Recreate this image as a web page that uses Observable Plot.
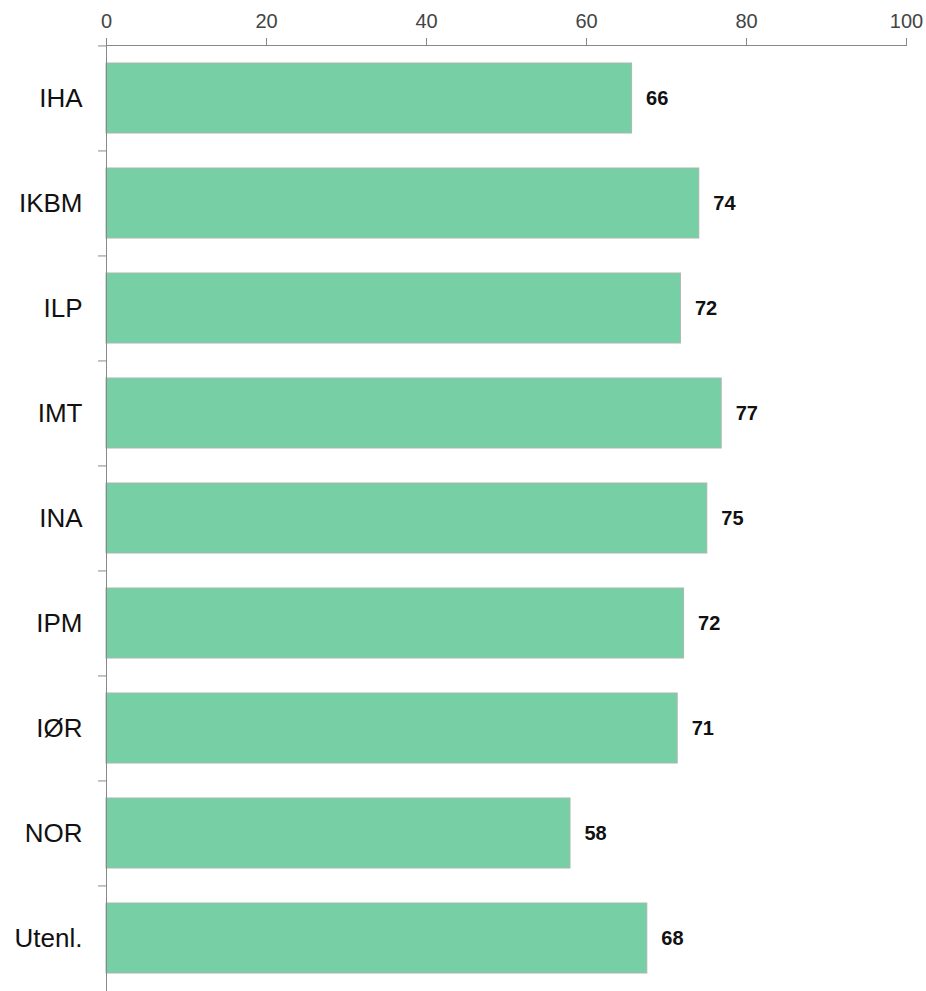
<!DOCTYPE html>
<html>
<head>
<meta charset="utf-8">
<script src="https://cdn.jsdelivr.net/npm/d3@7"></script>
<script src="https://cdn.jsdelivr.net/npm/@observablehq/plot@0.6"></script>
<style>
  html, body { margin: 0; padding: 0; background: #fff; }
  #chart svg { display: block; }
</style>
</head>
<body>
<div id="chart"></div>
<script>
const categories = ["IHA", "IKBM", "ILP", "IMT", "INA", "IPM", "IØR", "NOR", "Utenl."];
const values = [65.7, 74.1, 71.8, 76.9, 75.1, 72.2, 71.4, 58.0, 67.6];
const xTicks = [0, 20, 40, 60, 80, 100];

const data = categories.map((c, i) => ({cat: c, value: values[i]}));
const step = (991 - 45) / categories.length;

const chart = Plot.plot({
  width: 926,
  height: 991,
  marginTop: 45,
  marginLeft: 106,
  marginRight: 20,
  marginBottom: 0,
  style: {fontFamily: "Liberation Sans, Arial, sans-serif", background: "#fff"},
  x: {domain: [0, 100]},
  y: {domain: categories, paddingInner: 0.333, paddingOuter: 0.1667},
  marks: [
    Plot.barX(data, {x: "value", y: "cat", fill: "#77d0a5", stroke: "#a8b8ae", strokeWidth: 1}),
    Plot.text(data, {x: "value", y: "cat", text: d => String(Math.round(d.value)), textAnchor: "start", dx: 14, fontSize: 20, fontWeight: "bold", fill: "#111"}),
    Plot.frame({anchor: "top", stroke: "#888"}),
    Plot.ruleX([0], {stroke: "#888"}),
    Plot.axisX(xTicks, {anchor: "top", tickSize: 8, tickPadding: 10, stroke: "#888", fontSize: 20, fill: "#444", label: null}),
    Plot.axisY({tickSize: 0, tickPadding: 24, fontSize: 26, fill: "#111", label: null}),
    Plot.ruleY(categories, {y: d => d, x1: -1, x2: 0, dy: -step / 2, stroke: "#888"})
  ]
});
document.getElementById("chart").append(chart);
</script>
</body>
</html>
